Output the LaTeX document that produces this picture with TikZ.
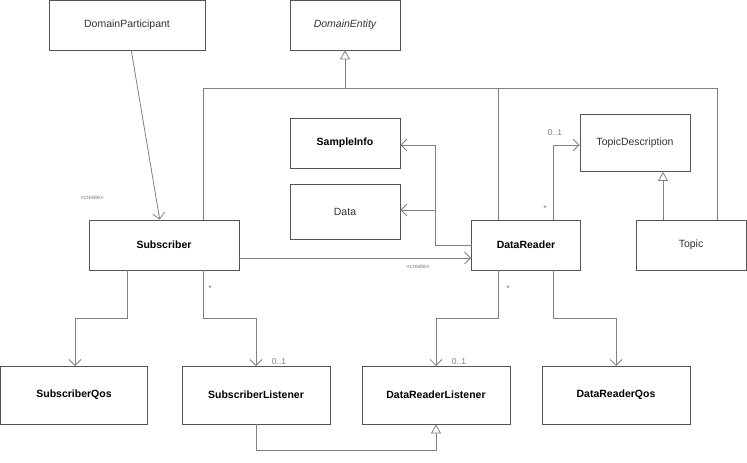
\documentclass[tikz,border=0pt]{standalone}
\usepackage{fontspec}
\setmainfont{Liberation Sans}
\usetikzlibrary{arrows.meta}
\definecolor{ln}{HTML}{808080}
\definecolor{bx}{HTML}{555555}
\definecolor{tx}{HTML}{333333}
\begin{document}
\begin{tikzpicture}[x=1pt,y=-1pt,
  cls/.style={draw=bx,fill=white,line width=0.8pt,minimum width=#1,minimum height=50pt,inner sep=0pt,font=\fontsize{10.5}{12}\selectfont,text=tx},
  cls/.default=110pt,
  bcls/.style={cls=#1,font=\fontsize{10.5}{12}\selectfont\bfseries,text=black},
  bcls/.default=148pt,
  as/.style={draw=ln,line width=0.8pt,-{Straight Barb[length=6pt,width=12pt]}},
  gen/.style={draw=ln,line width=0.8pt,-{Triangle[open,length=9pt,width=10pt,fill=white]}},
  ln/.style={draw=ln,line width=0.8pt},
  sm/.style={font=\fontsize{6}{7}\selectfont,text=ln},
  ml/.style={font=\fontsize{8.5}{10}\selectfont,text=ln}]
\useasboundingbox (0,0) rectangle (747,463);
% generalization tree to DomainEntity
\coordinate (t) at (345,88);
\draw[ln] (203,220) |- (717,88);
\draw[ln] (498,220) -- (498,88);
\draw[ln] (717,220) -- (717,88);
\node[cls=156pt] (dp) at (127,25) {DomainParticipant};
\node[cls] (de) at (345,25) {\itshape DomainEntity};
\node[bcls=110pt] (si) at (345,143) {SampleInfo};
\node[cls,minimum height=55pt] (da) at (345,212) {Data};
\node[bcls=150pt] (sub) at (164,245) {Subscriber};
\node[bcls=109pt] (dr) at (526,245) {DataReader};
\node[cls,minimum height=57pt] (td) at (635,143) {TopicDescription};
\node[cls] (tp) at (691,245) {Topic};
\node[bcls=147pt,minimum height=58pt] (sq) at (74,395) {SubscriberQos};
\node[bcls=148pt,minimum height=58pt] (sl) at (256,395) {SubscriberListener};
\node[bcls=148pt,minimum height=58pt] (drl) at (436,395) {DataReaderListener};
\node[bcls=148pt,minimum height=58pt] (drq) at (616,395) {DataReaderQos};
\draw[gen] (t) -- (de);
\draw[as] (dp) -- (sub);
\node[sm] at (92,198) {<<create>>};
\draw[as] (sub.east |- 0,258) -- (dr.west |- 0,258);
\node[sm] at (418,267) {<<create>>};
\draw[as] (472,245) -- (435,245) |- (si.east |- 0,145);
\draw[as] (435,210) -- (da.east |- 0,210);
\draw[as] (553,220) |- (td.west |- 0,145);
\node[ml] at (545,209) {*};
\node[ml] at (555,133) {0..1};
\draw[gen] (tp.north -| 663,0) -- (td.south -| 663,0);
\draw[as] (127,270) |- (75,318) -- (75,366);
\draw[as] (203,270) |- (256,318) -- (256,366);
\node[ml] at (210,289) {*};
\node[ml] at (279,362) {0..1};
\draw[as] (498,270) |- (436,318) -- (436,366);
\node[ml] at (508,289) {*};
\node[ml] at (459,362) {0..1};
\draw[as] (553,270) |- (616,318) -- (616,366);
\draw[gen] (sl.south) |- (436,450) -- (drl.south);
\end{tikzpicture}
\end{document}
